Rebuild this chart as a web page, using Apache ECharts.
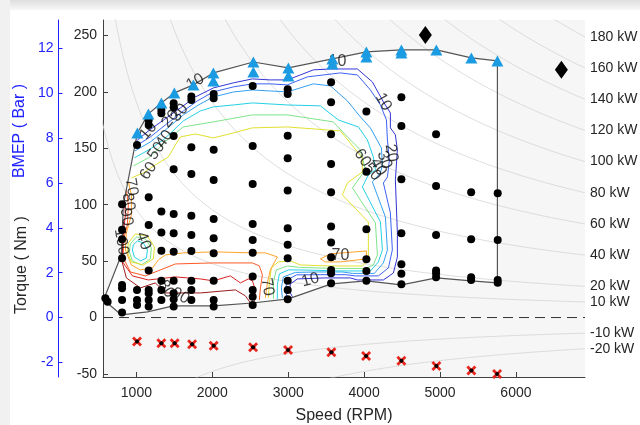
<!DOCTYPE html>
<html><head><meta charset="utf-8">
<script src="https://cdn.jsdelivr.net/npm/echarts@6/dist/echarts.min.js"></script>
<style>html,body{margin:0;padding:0;background:#fff}#c{width:640px;height:425px}</style>
</head><body><div id="c"></div>
<script>
// ---------- axes ----------
const X_MIN = 560, X_MAX = 6910;
const T_MIN = -52.7, T_MAX = 263.7;
const B_MIN = -2.65, B_MAX = 13.27;
const speedTicks = [1000,2000,3000,4000,5000,6000];
const torqueTicks = [-50,0,50,100,150,200,250];
const bmepTicks = [-2,0,2,4,6,8,10,12];
const powerLevels = [180,160,140,120,100,80,60,40,20,10,-10,-20]; // kW

// ---------- engine operating boundary (RPM, Nm) ----------
const boundary = [[578,17.4],[802,55.5],[828,99.8],[1013,163.6],[1158,180.5],[1329,190.2],[1500,199.1],[1751,206.2],[2014,216.8],[2541,226.5],[3002,221.2],[3582,229.2],[4030,235.4],[4491,237.2],[4952,237.2],[5413,230.1],[5756,227.4],[5756,30.7],[5413,32.5],[4952,35.1],[4491,28.9],[4030,32.5],[3569,29.8],[3002,16.5],[2528,12.9],[2014,10.3],[1487,10.3],[1145,5.0],[802,2.3],[618,12.9]];

// ---------- max torque points (triangles) ----------
const maxTorquePts = [[1013,163.6],[1158,180.5],[1329,190.2],[1500,199.1],[1751,206.2],[2014,216.8],[2014,209.7],[2541,226.5],[2541,217.7],[3002,221.2],[3002,214.1],[3582,229.2],[3582,224.8],[4030,235.4],[4030,231.0],[4491,237.2],[4491,234.5],[4952,237.2],[5413,230.1],[5756,227.4]];

// ---------- test points (dots) ----------
const testPoints = [
[591,17.1],[621,14.1],
[811,100.4],[811,77.7],[811,69.4],[811,52.6],[811,28.9],[811,26.0],[811,15.6],[811,4.4],
[1008,153.0],[1008,24.5],[1008,15.6],[1008,11.2],
[1162,175.1],[1162,170.7],[1162,106.6],[1162,82.1],[1162,41.6],[1162,24.5],[1162,21.5],[1162,15.6],[1162,9.7],
[1329,184.0],[1329,181.1],[1329,93.9],[1329,75.3],[1329,59.3],[1329,32.7],[1329,24.5],[1329,15.6],
[1491,190.0],[1491,186.4],[1491,160.9],[1491,131.5],[1491,91.8],[1491,74.7],[1491,58.4],[1491,32.7],[1491,21.5],[1491,16.2],[1491,9.7],
[1724,195.8],[1724,192.9],[1724,150.9],[1724,127.3],[1724,90.3],[1724,73.2],[1724,59.0],[1724,32.7],[1724,24.5],[1724,15.6],
[2018,198.2],[2018,194.4],[2018,148.6],[2018,122.0],[2018,87.4],[2018,70.3],[2018,57.0],[2018,32.7],[2018,15.6],[2018,9.7],
[2532,205.3],[2532,152.1],[2532,118.4],[2532,83.0],[2532,68.8],[2532,57.5],[2532,36.3],[2532,24.5],[2532,18.5],[2532,11.2],
[2993,202.4],[2993,198.2],[2993,161.2],[2993,141.2],[2993,112.5],[2993,79.2],[2993,64.4],[2993,52.6],[2993,32.7],[2993,24.5],[2993,16.2],
[3565,208.6],[3565,190.8],[3565,162.5],[3565,136.1],[3565,111.1],[3565,80.6],[3565,66.4],[3565,53.5],[3565,42.2],[3565,39.3],[3565,30.4],
[4030,182.5],[4030,129.3],[4030,78.3],[4030,51.7],[4030,41.3],[4030,32.5],
[4491,195.3],[4491,169.8],[4491,122.6],[4491,74.7],[4491,47.3],[4491,38.7],[4491,29.5],
[4948,162.5],[4948,116.6],[4948,73.2],[4948,41.6],[4948,39.3],[4948,35.7],
[5410,111.1],[5410,69.4],[5410,35.7],[5410,33.3],
[5760,110.2],[5760,68.8],[5760,33.3],[5760,30.9]
];

// ---------- motoring points (red x) ----------
const motoringPts = [[1008,-21.3],[1329,-22.8],[1504,-22.8],[1734,-23.7],[2018,-24.9],[2537,-26.3],[2998,-28.7],[3569,-30.7],[4026,-34.0],[4491,-38.2],[4952,-42.9],[5413,-47.0],[5752,-50.0]];

// ---------- diamonds ----------
const diamondPts = [[4807,250.5],[6599,219.5]];

// ---------- contour lines (RPM, Nm) ----------
const c10 = [[1000,156.5],[1158,165.4],[1342,174.3],[1580,185.8],[1777,195.5],[2014,203.5],[2278,208.0],[2528,211.5],[2765,210.6],[2989,210.6],[3160,215.0],[3332,219.5],[3556,220.3],[3912,220.3],[4109,208.8],[4254,191.1],[4346,181.3],[4346,168.1],[4412,161.9],[4438,148.6],[4412,122.0],[4438,75.0],[4438,53.7],[4386,39.5],[4254,33.3],[3912,33.3],[3819,35.1],[3477,35.1],[3121,34.2],[3029,29.8],[3015,23.6],[3055,18.3]];
const c20 = [[993,152.1],[1184,160.1],[1382,170.7],[1619,183.1],[1803,192.0],[2014,200.0],[2278,204.4],[2528,207.1],[2765,207.1],[2989,206.2],[3253,213.3],[3688,216.8],[3912,215.0],[4083,201.7],[4215,188.4],[4294,175.1],[4307,157.4],[4333,139.7],[4307,124.6],[4254,119.3],[4346,92.7],[4372,59.9],[4320,44.0],[4188,36.9],[3885,36.9],[3753,38.0],[3424,38.0],[3108,37.8],[2989,33.3],[2963,24.5],[2989,17.4]];
const c30 = [[980,147.7],[1184,155.6],[1382,166.3],[1619,179.6],[1817,188.4],[2014,195.5],[2278,199.9],[2528,201.7],[2765,200.8],[2989,200.0],[3332,207.1],[3556,205.3],[3780,192.0],[3951,177.8],[4083,168.1],[4228,150.3],[4241,135.3],[4215,128.2],[4109,120.2],[4280,89.2],[4307,59.9],[4254,48.4],[4135,39.1],[3846,39.1],[3714,40.4],[3398,40.4],[3094,40.0],[2936,36.0],[2910,26.3],[2923,17.4]];
const c40 = [[973,141.5],[1184,149.4],[1369,158.3],[1619,174.3],[1843,183.1],[2014,186.7],[2278,188.4],[2528,190.2],[2989,188.4],[3424,187.6],[3661,175.1],[3925,168.9],[4043,157.4],[4122,142.3],[4149,130.8],[4056,126.4],[3977,115.8],[4215,84.7],[4241,59.9],[4188,49.3],[4083,41.3],[3688,41.3],[3160,42.2],[3002,42.2],[2884,38.7],[2857,28.9],[2857,16.5]];
const c50 = [[960,134.4],[1158,141.5],[1263,147.7],[1448,160.1],[1619,168.9],[2014,173.4],[2528,179.6],[2989,179.6],[3595,173.4],[3780,160.1],[3951,148.6],[4017,130.8],[3846,114.9],[4149,83.9],[4175,55.5],[4122,46.6],[4017,43.5],[3622,43.5],[3160,44.4],[2989,45.7],[2844,42.2],[2805,31.6],[2805,16.5]];
const c60 = [[934,123.7],[1092,128.2],[1250,135.3],[1421,142.3],[1514,153.0],[1580,160.1],[1777,162.7],[2014,159.2],[2278,163.6],[2528,168.1],[2989,168.9],[3688,165.4],[3859,151.2],[3977,141.5],[3977,129.1],[3780,119.3],[3714,108.7],[4056,84.7],[4056,51.1],[3977,45.7],[3556,45.7],[3160,46.6],[3029,50.2],[2870,49.3],[2778,44.0],[2752,30.7],[2739,17.4]];
const c70 = [[894,120.2],[934,108.7],[934,91.0],[868,75.0],[855,59.9],[934,46.6],[1053,42.2],[1211,44.0],[1290,51.1],[1382,55.5],[1619,57.3],[2014,58.2],[2528,57.3],[2699,57.3],[2857,53.7],[2765,42.2],[2726,30.7],[2699,17.4]];
const c80 = [[868,113.1],[894,99.8],[881,82.1],[828,68.8],[828,52.8],[921,40.4],[1118,36.9],[1316,42.2],[1514,47.5],[2014,48.4],[2528,48.4],[2620,45.7],[2660,37.8],[2634,26.3],[2620,15.6]];
const c90 = [[842,104.2],[855,90.9],[818,70.0],[818,49.3],[947,36.9],[1158,33.3],[1514,36.0],[1843,34.2],[2014,32.5],[2238,36.9],[2370,30.7],[2475,34.2],[2528,32.5],[2568,24.5],[2555,14.7]];
const c100 = [[828,84.7],[812,49.3],[868,35.1],[1053,26.3],[1250,30.7],[1382,21.8],[1843,21.8],[2304,24.5],[2436,19.2],[2502,12.9]];
const loop40 = [[960,64.4],[1013,67.9],[1092,66.1],[1145,59.9],[1132,52.8],[1053,50.2],[973,53.7],[947,59.9],[960,64.4]];
const loop50 = [[921,65.2],[1000,71.5],[1118,69.7],[1197,61.7],[1184,52.0],[1066,46.6],[947,50.2],[908,58.2],[921,65.2]];
const loop60 = [[894,66.1],[987,74.1],[1145,72.3],[1237,62.6],[1224,52.0],[1092,46.6],[934,49.3],[881,58.2],[894,66.1]];
const loop70 = [[3424,52.0],[3556,56.4],[4030,59.0],[4030,52.0],[3688,49.3],[3490,49.3],[3424,52.0]];

// contour labels: [rpm, Nm, text, rotation]
const contourLabels = [
[1158,165.4,'10',50],[1448,176.0,'20',50],[1570,181.5,'30',50],[1369,158.3,'40',55],[1263,147.7,'50',55],[1158,129.9,'60',55],
[4254,191.1,'10',-60],[4359,145.9,'20',-80],[4267,139.7,'30',-70],[4188,133.5,'40',-60],[4109,129.1,'50',-50],[3977,141.5,'60',-55],
[3292,33.3,'10',15],[3688,54.6,'70',0],[3648,226.5,'10',0],[1777,208.8,'10',30],
[934,115.8,'70',-80],[894,102.5,'80',-80],[868,89.2,'90',-80],[802,67.0,'100',-80],
[1092,67.9,'40',-70],[1395,25.4,'80',-60],[1580,19.2,'90',-30],[2726,27.1,'70',-80]
];

const contourDefs = [
 [c10,'#3434d6'],[c20,'#3c62f4'],[c30,'#35a0f2'],[c40,'#25d0e4'],[c50,'#7fe48a'],[c60,'#e2e030'],
 [c70,'#ffa428'],[c80,'#ff5a26'],[c90,'#dc2222'],[c100,'#9c1a1a'],
 [loop40,'#25d0e4'],[loop50,'#7fe48a'],[loop60,'#e2e030'],[loop70,'#ffa428']
];

const NM_PER_KW_RPM = 60000/(2*Math.PI);
function isoPower(P){
  const pts=[];
  for(let n=300;n<X_MAX;n+=10) pts.push([n, P*NM_PER_KW_RPM/n]);
  pts.push([X_MAX, P*NM_PER_KW_RPM/X_MAX]);
  return pts;
}

const FONT = '"Liberation Sans", Arial, Helvetica, sans-serif';
const series = [];

series.push({type:'custom', z:1, silent:true, data:[boundary[0]],
  renderItem:(params,api)=>({type:'polygon', shape:{points:boundary.map(p=>api.coord(p))}, style:{fill:'#ffffff'}})});

powerLevels.forEach(P=>{
  series.push({type:'line', name:P+' kW', data:isoPower(P), showSymbol:false, symbol:'none', clip:true, silent:true, z:2,
    lineStyle:{color:'#d4d4d4', width:0.8},
    endLabel:{show:true, formatter:'{a}', color:'#262626', fontSize:14, fontFamily:FONT, distance:5}});
});

series.push({type:'line', data:[[X_MIN,0],[X_MAX,0]], symbol:'none', silent:true, z:3,
  lineStyle:{color:'#333333', width:1, type:[10,6]}});

contourDefs.forEach(([pts,col])=>{
  series.push({type:'line', data:pts, symbol:'none', silent:true, z:3, lineStyle:{color:col, width:1}});
});

series.push({type:'line', data:boundary.concat([boundary[0]]), symbol:'none', silent:true, z:4,
  lineStyle:{color:'#555555', width:1.2}});

series.push({type:'scatter', data:contourLabels.map(([n,t,txt,r])=>({value:[n,t], name:txt, label:{rotate:r}})),
  symbolSize:1, itemStyle:{color:'rgba(0,0,0,0)'}, z:6, silent:true,
  label:{show:true, position:'inside', formatter:'{b}', fontSize:16, color:'#111', fontFamily:FONT}});

series.push({type:'scatter', data:testPoints, symbol:'circle', symbolSize:8, itemStyle:{color:'#000', opacity:1}, z:7, silent:true});
series.push({type:'scatter', data:maxTorquePts, symbol:'triangle', symbolSize:[12,11], itemStyle:{color:'#1a9be2', opacity:1}, z:8, silent:true});
series.push({type:'scatter', data:diamondPts, symbol:'diamond', symbolSize:[13,18], itemStyle:{color:'#000', opacity:1}, z:8, silent:true});
series.push({type:'scatter', data:motoringPts, symbol:'path://M2,0 L5,3 L8,0 L10,2 L7,5 L10,8 L8,10 L5,7 L2,10 L0,8 L3,5 L0,2 Z', symbolSize:10, itemStyle:{color:'#e8261e', opacity:1}, z:8, silent:true});
series.push({type:'scatter', data:motoringPts, symbol:'circle', symbolSize:4, itemStyle:{color:'#000', opacity:1}, z:9, silent:true});

const plain = v => String(v);
const chart = echarts.init(document.getElementById('c'), null, {renderer:'canvas'});
chart.setOption({
  animation:false,
  backgroundColor:'#ffffff',
  textStyle:{fontFamily:FONT},
  grid:{left:103, right:55, top:20, bottom:48, show:true, backgroundColor:'#f6f6f6', borderWidth:0, containLabel:false, outerBoundsMode:'none'},
  xAxis:{type:'value', min:X_MIN, max:X_MAX,
    axisLine:{show:true, onZero:false, lineStyle:{color:'#404040', width:1}},
    axisTick:{show:true, inside:true, length:5, customValues:speedTicks, lineStyle:{color:'#404040'}},
    axisLabel:{show:true, customValues:speedTicks, formatter:plain, fontSize:14, color:'#262626', margin:9},
    splitLine:{show:false},
    name:'Speed (RPM)', nameLocation:'middle', nameGap:31, nameTextStyle:{fontSize:16, color:'#262626'}},
  yAxis:[
    {type:'value', position:'left', min:T_MIN, max:T_MAX,
     axisLine:{show:true, onZero:false, lineStyle:{color:'#404040', width:1}},
     axisTick:{show:true, inside:true, length:5, customValues:torqueTicks, lineStyle:{color:'#404040'}},
     axisLabel:{show:true, customValues:torqueTicks, formatter:plain, fontSize:14, color:'#262626', margin:6},
     splitLine:{show:false}},
    {type:'value', position:'left', offset:44.5, min:B_MIN, max:B_MAX,
     axisLine:{show:true, onZero:false, lineStyle:{color:'#2222ff', width:1}},
     axisTick:{show:true, inside:true, length:4, customValues:bmepTicks, lineStyle:{color:'#2222ff'}},
     axisLabel:{show:true, customValues:bmepTicks, formatter:plain, fontSize:14, color:'#2222ff', margin:5},
     splitLine:{show:false}}
  ],
  graphic:[
    {type:'rect', shape:{x:0,y:0,width:640,height:10}, style:{fill:{type:'linear',x:0,y:0,x2:0,y2:1,colorStops:[{offset:0,color:'#dedede'},{offset:1,color:'#f8f8f8'}]}}},
    {type:'rect', shape:{x:0,y:0,width:10,height:425}, style:{fill:'#f1f1f1'}},
    {type:'text', x:20, y:131, rotation:Math.PI/2, style:{text:'BMEP ( Bar )', fill:'#2222ff', font:'16px '+FONT, textAlign:'center', textVerticalAlign:'middle'}},
    {type:'text', x:22, y:265, rotation:Math.PI/2, style:{text:'Torque ( Nm )', fill:'#262626', font:'16px '+FONT, textAlign:'center', textVerticalAlign:'middle'}}
  ],
  series:series
});
</script></body></html>
